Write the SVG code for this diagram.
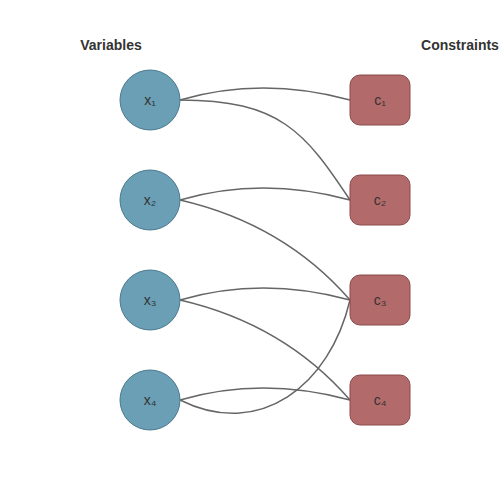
<svg xmlns="http://www.w3.org/2000/svg" width="500" height="500" viewBox="0 0 500 500">
<style>
.edge{fill:none;stroke:#666;stroke-width:1.5}
.var circle{fill:#6a9fb5;stroke:#4a7a8d;stroke-width:1}
.con rect{fill:#b36a6a;stroke:#8a4a4a;stroke-width:1}
.lbl{font-family:"Liberation Sans",Arial,sans-serif;font-size:14px;fill:#333;text-anchor:middle;dominant-baseline:central}
.hdr{font-family:"Liberation Sans",Arial,sans-serif;font-size:14px;font-weight:bold;fill:#333;text-anchor:middle}
</style>
<rect width="500" height="500" fill="#fff"/>
<text class="hdr" x="111" y="50">Variables</text>
<text class="hdr" x="460" y="50">Constraints</text>
<g id="connectors">
<path class="edge" d="M180,100 Q262,76 350,100"/>
<path class="edge" d="M180,100 C280,100 305,132 350,200"/>
<path class="edge" d="M180,200 Q262,176 350,200"/>
<path class="edge" d="M180,200 Q284,224 350,300"/>
<path class="edge" d="M180,300 Q262,276 350,300"/>
<path class="edge" d="M180,300 Q284,324 350,400"/>
<path class="edge" d="M180,400 Q262,376 350,400"/>
<path class="edge" d="M180,400 C260,440 330,385 350,300"/>
</g>
<g id="x1" class="var"><circle cx="150" cy="100" r="30"/><text class="lbl" x="150" y="100">x₁</text></g>
<g id="x2" class="var"><circle cx="150" cy="200" r="30"/><text class="lbl" x="150" y="200">x₂</text></g>
<g id="x3" class="var"><circle cx="150" cy="300" r="30"/><text class="lbl" x="150" y="300">x₃</text></g>
<g id="x4" class="var"><circle cx="150" cy="400" r="30"/><text class="lbl" x="150" y="400">x₄</text></g>
<g id="c1" class="con"><rect x="350" y="75" width="60" height="50" rx="10"/><text class="lbl" x="380" y="100">c₁</text></g>
<g id="c2" class="con"><rect x="350" y="175" width="60" height="50" rx="10"/><text class="lbl" x="380" y="200">c₂</text></g>
<g id="c3" class="con"><rect x="350" y="275" width="60" height="50" rx="10"/><text class="lbl" x="380" y="300">c₃</text></g>
<g id="c4" class="con"><rect x="350" y="375" width="60" height="50" rx="10"/><text class="lbl" x="380" y="400">c₄</text></g>
</svg>
